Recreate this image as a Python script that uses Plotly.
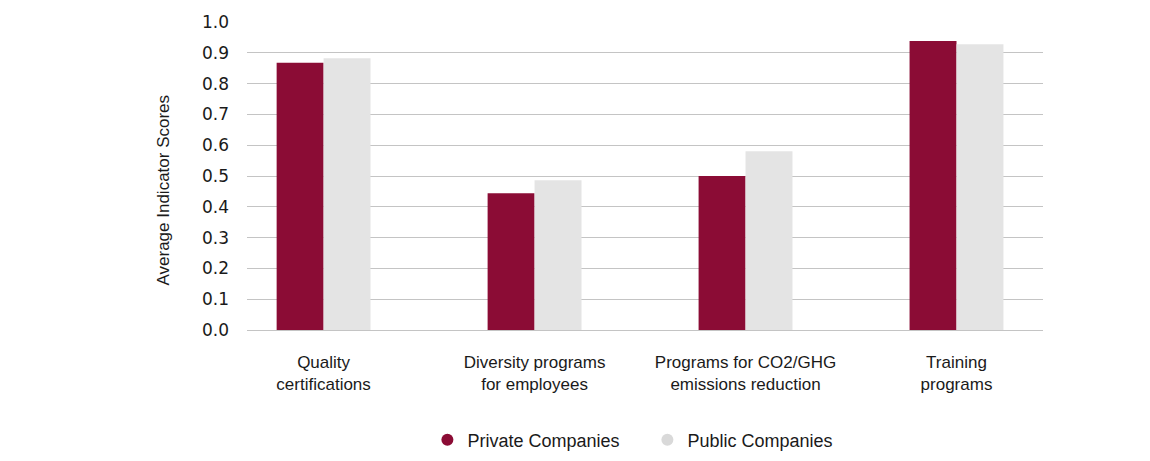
import plotly.graph_objects as go

categories = ["Quality<br>certifications", "Diversity programs<br>for employees",
              "Programs for CO2/GHG<br>emissions reduction", "Training<br>programs"]
private_vals = [0.868, 0.444, 0.500, 0.938]
public_vals = [0.882, 0.486, 0.580, 0.928]
y_ticks = [0.0, 0.1, 0.2, 0.3, 0.4, 0.5, 0.6, 0.7, 0.8, 0.9, 1.0]
y_title = "Average Indicator Scores"

PRIV = "#8B0C35"
PUB = "#E4E4E4"
TXT = "#1a1a1a"
LBL_FONT = "Liberation Sans"

fig = go.Figure()
fig.add_trace(go.Bar(x=categories, y=private_vals, name="Private Companies",
                     marker=dict(color=PRIV, line=dict(width=0)), showlegend=False))
fig.add_trace(go.Bar(x=categories, y=public_vals, name="Public Companies",
                     marker=dict(color=PUB, line=dict(width=0)), showlegend=False))
# legend entries with round markers
fig.add_trace(go.Scatter(x=[None], y=[None], mode="markers", name="Private Companies",
                         marker=dict(color=PRIV, size=11, symbol="circle")))
fig.add_trace(go.Scatter(x=[None], y=[None], mode="markers", name="Public Companies",
                         marker=dict(color="#D9D9D9", size=11, symbol="circle")))

fig.add_annotation(text=y_title, textangle=-90, xref="paper", yref="paper",
                   x=-0.1055, y=0.453, xanchor="center", yanchor="middle",
                   showarrow=False, font=dict(family=LBL_FONT, size=17, color=TXT))

fig.update_layout(
    width=1150, height=461,
    margin=dict(l=239, r=115, t=14, b=138),
    paper_bgcolor="white", plot_bgcolor="white",
    barmode="group", bargap=0.555, bargroupgap=0,
    font=dict(family=LBL_FONT, color=TXT, size=17),
    legend=dict(orientation="h", x=0.503, xanchor="center", y=-0.353, yanchor="middle",
                font=dict(family=LBL_FONT, size=18, color=TXT),
                entrywidth=175, entrywidthmode="pixels", itemsizing="constant"),
    xaxis=dict(range=[-0.363, 3.41], showgrid=False, showline=False, zeroline=False,
               tickfont=dict(family=LBL_FONT, size=17, color=TXT),
               ticks="", ticklabelstandoff=20, automargin=False),
    yaxis=dict(range=[0, 1.0], tickvals=y_ticks, ticktext=[f"{v:.1f}" for v in y_ticks],
               showgrid=True, gridcolor="#C4C4C4", gridwidth=1,
               zeroline=True, zerolinecolor="#C4C4C4", zerolinewidth=1,
               tickfont=dict(family="DejaVu Sans", size=17, color=TXT),
               ticklabelstandoff=17, automargin=False),
)

fig.write_html("out.html")
